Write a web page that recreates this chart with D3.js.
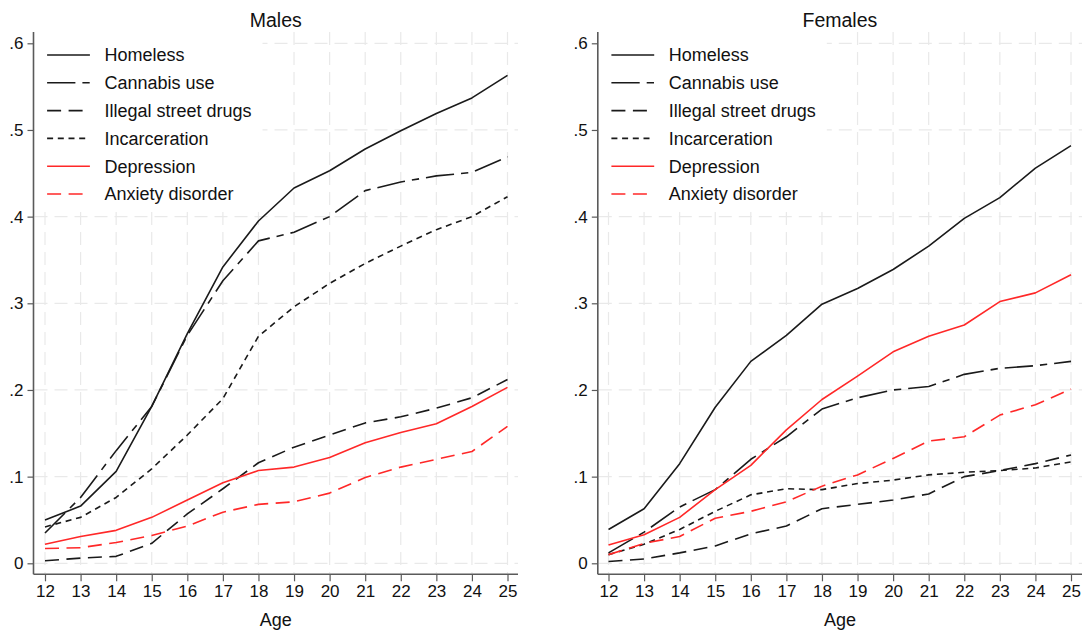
<!DOCTYPE html>
<html>
<head>
<meta charset="utf-8">
<script src="https://cdn.jsdelivr.net/npm/d3@7/dist/d3.min.js"></script>
<style>
  html, body { margin: 0; padding: 0; background: #fff; }
  svg { display: block; font-family: "Liberation Sans", Arial, sans-serif; }
</style>
</head>
<body>
<svg id="chart" width="1083" height="631"></svg>
<script>
// Cumulative proportion by age, six outcomes, by sex
const ages = [12, 13, 14, 15, 16, 17, 18, 19, 20, 21, 22, 23, 24, 25];
const seriesNames = ["Homeless", "Cannabis use", "Illegal street drugs", "Incarceration", "Depression", "Anxiety disorder"];
const panelTitles = ["Males", "Females"];
const yTickValues = [0, 0.1, 0.2, 0.3, 0.4, 0.5, 0.6];
const yTickLabels = ["0", ".1", ".2", ".3", ".4", ".5", ".6"];

const maleHomeless   = [0.050, 0.066, 0.106, 0.181, 0.265, 0.342, 0.395, 0.433, 0.453, 0.478, 0.499, 0.519, 0.537, 0.563];
const maleCannabis   = [0.035, 0.076, 0.130, 0.181, 0.263, 0.326, 0.372, 0.382, 0.400, 0.430, 0.440, 0.447, 0.451, 0.469];
const maleDrugs      = [0.003, 0.006, 0.008, 0.023, 0.057, 0.086, 0.116, 0.134, 0.148, 0.162, 0.169, 0.179, 0.191, 0.212];
const maleJail       = [0.042, 0.053, 0.076, 0.109, 0.148, 0.190, 0.262, 0.296, 0.323, 0.346, 0.366, 0.385, 0.400, 0.423];
const maleDepression = [0.022, 0.031, 0.038, 0.053, 0.073, 0.093, 0.107, 0.111, 0.122, 0.139, 0.151, 0.161, 0.181, 0.203];
const maleAnxiety    = [0.017, 0.018, 0.024, 0.032, 0.043, 0.059, 0.068, 0.071, 0.081, 0.099, 0.111, 0.120, 0.129, 0.158];

const femaleHomeless   = [0.039, 0.063, 0.115, 0.180, 0.233, 0.263, 0.299, 0.317, 0.339, 0.366, 0.398, 0.422, 0.456, 0.482];
const femaleCannabis   = [0.012, 0.036, 0.065, 0.085, 0.120, 0.146, 0.178, 0.191, 0.200, 0.204, 0.218, 0.225, 0.228, 0.233];
const femaleDrugs      = [0.002, 0.005, 0.012, 0.020, 0.034, 0.043, 0.063, 0.068, 0.073, 0.080, 0.100, 0.107, 0.115, 0.125];
const femaleJail       = [0.010, 0.022, 0.039, 0.060, 0.079, 0.086, 0.085, 0.092, 0.096, 0.102, 0.105, 0.107, 0.110, 0.117];
const femaleDepression = [0.021, 0.033, 0.053, 0.085, 0.113, 0.154, 0.189, 0.216, 0.244, 0.262, 0.275, 0.302, 0.312, 0.333];
const femaleAnxiety    = [0.010, 0.023, 0.031, 0.052, 0.060, 0.071, 0.089, 0.102, 0.121, 0.141, 0.146, 0.171, 0.183, 0.201];

const panelValues = [
  [maleHomeless, maleCannabis, maleDrugs, maleJail, maleDepression, maleAnxiety],
  [femaleHomeless, femaleCannabis, femaleDrugs, femaleJail, femaleDepression, femaleAnxiety]
];

// Line styles per outcome
const BLACK = "#1a1a1a", RED = "#ff2828";
const styles = [
  { color: BLACK, dash: null },
  { color: BLACK, dash: "28.3,7,7.3,7" },
  { color: BLACK, dash: "14,7.5" },
  { color: BLACK, dash: "6,4.7" },
  { color: RED,   dash: null },
  { color: RED,   dash: "14,7.5" }
];

const svg = d3.select("#chart");
const TEXT = "#111";
const AXIS = "#5a5a5a";
const GRID = "#e9e9e9";

// Panel frames: plot area left/right, and the first/last age positions
const frames = [
  { left: 33.5, right: 518, x0: 45, x1: 507.5 },
  { left: 597.8, right: 1082, x0: 608.5, x1: 1071 }
];
const plotTop = 32, plotBottom = 574.3;
const y = d3.scaleLinear().domain([0, 0.6]).range([563.3, 43.3]);

frames.forEach((f, p) => {
  const x = d3.scaleLinear().domain([12, 25]).range([f.x0, f.x1]);
  const g = svg.append("g");

  // grid
  g.append("g").selectAll("line.h").data(yTickValues).join("line")
    .attr("x1", f.left + 1).attr("x2", f.right)
    .attr("y1", d => y(d)).attr("y2", d => y(d))
    .attr("stroke", GRID).attr("stroke-width", 1.2)
    .attr("stroke-dasharray", "13,7");
  g.append("g").selectAll("line.v").data(ages).join("line")
    .attr("x1", d => x(d)).attr("x2", d => x(d))
    .attr("y1", plotTop).attr("y2", plotBottom - 1)
    .attr("stroke", GRID).attr("stroke-width", 1.2)
    .attr("stroke-dasharray", "13,7");

  // legend backdrop
  g.append("rect")
    .attr("x", f.left + 1).attr("y", plotTop)
    .attr("width", 228).attr("height", 180)
    .attr("fill", "#fff");

  // series lines
  const line = d3.line().x((d, i) => x(ages[i])).y(d => y(d));
  panelValues[p].forEach((vals, s) => {
    g.append("path")
      .attr("d", line(vals))
      .attr("fill", "none")
      .attr("stroke", styles[s].color)
      .attr("stroke-width", 1.6)
      .attr("stroke-linejoin", "round")
      .attr("stroke-dasharray", styles[s].dash);
  });

  // y axis
  const yAxis = d3.axisLeft(y).tickValues(yTickValues)
    .tickFormat((d, i) => yTickLabels[i]).tickSize(6).tickPadding(4);
  const ya = g.append("g").attr("transform", `translate(${f.left},0)`).call(yAxis);
  ya.select(".domain").remove();
  ya.append("line").attr("x1", 0).attr("x2", 0)
    .attr("y1", plotTop).attr("y2", plotBottom)
    .attr("stroke", AXIS).attr("stroke-width", 1.6);
  ya.selectAll(".tick line").attr("stroke", AXIS).attr("stroke-width", 1.2);
  ya.selectAll(".tick text").attr("fill", TEXT).attr("font-size", 17)
    .attr("font-family", "Liberation Sans, Arial, sans-serif");

  // x axis
  const xAxis = d3.axisBottom(x).tickValues(ages).tickFormat(d3.format("d"))
    .tickSize(7).tickPadding(4);
  const xa = g.append("g").attr("transform", `translate(0,${plotBottom})`).call(xAxis);
  xa.select(".domain").remove();
  xa.append("line").attr("x1", f.left).attr("x2", f.right)
    .attr("y1", 0).attr("y2", 0)
    .attr("stroke", AXIS).attr("stroke-width", 1.6);
  xa.selectAll(".tick line").attr("stroke", AXIS).attr("stroke-width", 1.2);
  xa.selectAll(".tick text").attr("fill", TEXT).attr("font-size", 17)
    .attr("font-family", "Liberation Sans, Arial, sans-serif");

  // axis title and panel title
  const cx = (f.left + f.right) / 2;
  g.append("text").attr("x", cx).attr("y", 626)
    .attr("text-anchor", "middle").attr("font-size", 18).attr("fill", TEXT)
    .text("Age");
  g.append("text").attr("x", cx).attr("y", 26.7)
    .attr("text-anchor", "middle").attr("font-size", 19.5).attr("fill", TEXT)
    .text(panelTitles[p]);

  // legend
  const lg = g.append("g");
  seriesNames.forEach((name, s) => {
    const ly = 55 + s * 27.8;
    lg.append("line")
      .attr("x1", f.left + 13.6).attr("x2", f.left + 56.4)
      .attr("y1", ly).attr("y2", ly)
      .attr("stroke", styles[s].color).attr("stroke-width", 1.6)
      .attr("stroke-dasharray", styles[s].dash);
    lg.append("text")
      .attr("x", f.left + 71).attr("y", ly)
      .attr("dy", "0.35em").attr("font-size", 18).attr("fill", TEXT)
      .text(name);
  });
});
</script>
</body>
</html>
